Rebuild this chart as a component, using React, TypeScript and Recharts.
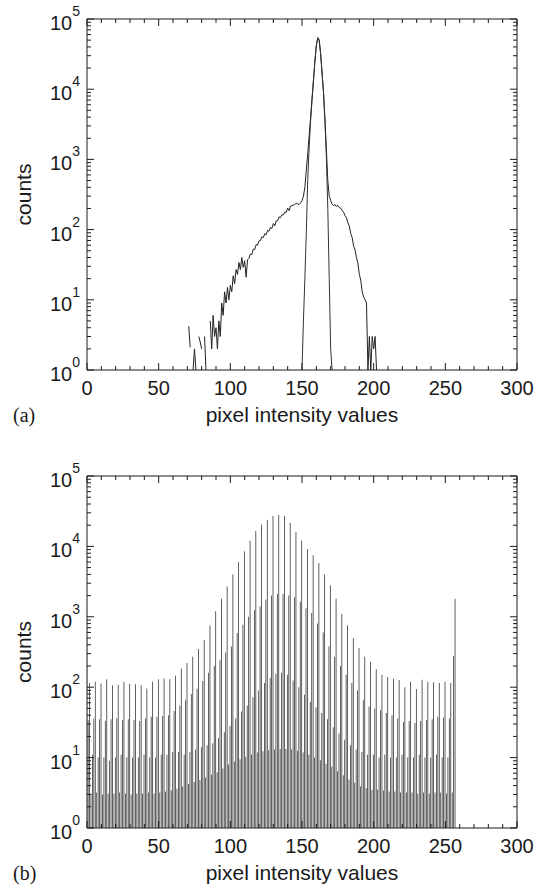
import React from "react"
import {
  Bar,
  ComposedChart,
  Line,
  ReferenceArea,
  XAxis,
  YAxis,
} from "recharts"

// (a) broad background histogram, x = 71 .. 202 (null = empty bin)
const broadStart = 71
const broadCounts = [
  4.2, 2.1, null, 1, 2, 1, null, 3, 2.5, 2, // 71-80
  null, 3, 1, null, null, 5, 2, 6, 3, 4, // 81-90
  2, 5, 3, 9, 6, 13, 9, 15, 10, 16, // 91-100
  13, 22, 17, 27, 23, 34, 27, 40, 29, 36, // 101-110
  21, 37, 39, 45, 44, 53, 52, 61, 60, 69, // 111-120
  70, 79, 77, 87, 85, 97, 95, 107, 104, 122, // 121-130
  113, 133, 134, 152, 148, 163, 162, 178, 176, 202, // 131-140
  186, 216, 220, 224, 226, 238, 232, 228, 240, 260, // 141-150
  300, 400, 700, 1200, 2200, 4000, 7500, 13500, 25000, 42000, // 151-160
  54000, 50000, 32000, 17000, 9000, 3800, 1400, 500, 300, 260, // 161-170
  230, 220, 228, 212, 222, 206, 202, 188, 177, 158, // 171-180
  148, 126, 112, 88, 77, 58, 52, 40, 33, 23, // 181-190
  19, 13, 11, 10, 9, 1, 3, 1, 3, 2, // 191-200
  3, 1, // 201-202
]

// (a) narrow peak, x = 150 .. 171
const peakStart = 150
const peakCounts = [
  1, 5, 20, 90, 500, 1500, 3500, 7000, 13000, 25000, 42000,
  54000, 50000, 32000, 17000, 9000, 3500, 1100, 200, 20, 2, 1,
]

// (b) comb histogram: four interleaved levels per group of 4 bins
const combLow = [
  10, 11, 10, 10, 9, 10, 11, 10, 10, 10,
  11, 10, 10, 11, 11, 12, 12, 11, 12, 13,
  14, 15, 16, 19, 23, 28, 36, 45, 55, 72,
  90, 115, 135, 155, 160, 150, 125, 100, 78, 62,
  52, 43, 35, 27, 22, 18, 15, 13, 12, 11,
  11, 10, 11, 10, 10, 11, 10, 10, 11, 10,
  10, 11, 10, 10,
]
const combMid = [
  34, 36, 35, 33, 35, 36, 34, 35, 34, 33,
  36, 38, 38, 39, 40, 46, 55, 65, 80, 95,
  122, 160, 200, 245, 310, 380, 590, 770, 1000, 1250,
  1400, 1740, 2000, 2100, 2100, 2000, 1900, 1630, 1320, 1130,
  800, 600, 380, 270, 200, 150, 115, 90, 65, 53,
  50, 47, 43, 40, 36, 32, 33, 31, 33, 34,
  35, 38, 37, 36,
]
const combTop = [
  115, 120, 113, 130, 107, 108, 120, 112, 110, 107,
  96, 120, 130, 133, 130, 145, 185, 220, 270, 350,
  470, 750, 1200, 1800, 2700, 4000, 6000, 8500, 12000, 16500,
  20500, 24000, 27000, 28000, 27000, 21500, 16000, 12000, 9200, 7500,
  5800, 4000, 2800, 1800, 1100, 760, 500, 360, 270, 230,
  180, 150, 140, 132, 127, 100, 120, 94, 128, 120,
  118, 115, 120, 115,
]
const combBase = [
  3.1, 3.2, 3.0, 3.1, 3.1, 3.2, 3.1, 3.0, 3.1, 3.1,
  3.2, 3.1, 3.2, 3.3, 3.4, 3.6, 3.9, 4.2, 4.5, 4.8,
  5.2, 5.7, 6.2, 7.0, 8.0, 8.8, 9.5, 10.3, 11.0, 11.8,
  12.3, 12.7, 13.0, 13.2, 13.3, 13.0, 12.5, 11.8, 11.0, 10.0,
  9.2, 8.2, 7.4, 6.4, 5.6, 4.9, 4.4, 3.9, 3.7, 3.5,
  3.5, 3.4, 3.3, 3.3, 3.2, 3.2, 3.2, 3.1, 3.2, 3.1,
  3.2, 3.2, 3.1, 3.2,
]
const combEdges = [
  { x: 0, count: 500 },
  { x: 256, count: 280 },
  { x: 257, count: 1800 },
]

const xTicks = Array.from({ length: 31 }, (_, i) => i * 10)
const decades = [1, 10, 100, 1000, 10000, 100000]
const yTicks = decades.flatMap((d, i) =>
  i === decades.length - 1 ? [d] : [1, 2, 3, 4, 5, 6, 7, 8, 9].map((m) => m * d)
)

const broadData = broadCounts.map((c, i) => ({ x: broadStart + i, count: c }))
const peakData = peakCounts.map((c, i) => ({ x: peakStart + i, count: c }))
const combData = combTop.flatMap((_, g) => [
  { x: 4 * g, count: combLow[g] },
  { x: 4 * g + 1, count: combMid[g] },
  { x: 4 * g + 2, count: combTop[g] },
  { x: 4 * g + 3, count: combBase[g] },
])
combEdges.forEach((e) => {
  const row = combData.find((r) => r.x === e.x)
  if (row) row.count = e.count
  else combData.push({ ...e })
})

const FONT = "'Liberation Sans', Arial, Helvetica, sans-serif"
const SERIF = "'Liberation Serif', 'Times New Roman', serif"
const INK = "#1a1a1a"
const WIDTH = 541
const PLOT_W = 430

const makeXTick = (plotH: number) => (props: any) => {
  const { x, y, payload } = props
  const v = payload.value
  const major = v % 50 === 0
  const len = major ? 7 : 4
  return (
    <g>
      <line x1={x} x2={x} y1={y} y2={y - len} stroke={INK} />
      <line x1={x} x2={x} y1={y - plotH} y2={y - plotH + len} stroke={INK} />
      {major && (
        <text x={x} y={y + 25} textAnchor="middle" fontSize={20} fontFamily={FONT} fill={INK}>
          {v}
        </text>
      )}
    </g>
  )
}

const YTick = (props: any) => {
  const { x, y, payload } = props
  const exp = Math.log10(payload.value)
  const major = Math.abs(exp - Math.round(exp)) < 1e-9
  const len = major ? 7 : 4
  return (
    <g>
      <line x1={x} x2={x + len} y1={y} y2={y} stroke={INK} />
      <line x1={x + PLOT_W} x2={x + PLOT_W - len} y1={y} y2={y} stroke={INK} />
      {major && (
        <text x={x - 7} y={y + 11} textAnchor="end" fontSize={20} fontFamily={FONT} fill={INK}>
          10
          <tspan dy={-14} fontSize={14}>
            {Math.round(exp)}
          </tspan>
        </text>
      )}
    </g>
  )
}

const xTitle = (tag: string) => (p: any) => {
  const vb = p.viewBox
  return (
    <g>
      <text x={vb.x + vb.width / 2} y={vb.y + 52} textAnchor="middle" fontSize={21} fontFamily={FONT} fill={INK}>
        pixel intensity values
      </text>
      <text x={13} y={vb.y + 52} fontSize={20} fontFamily={SERIF} fill={INK}>
        {tag}
      </text>
    </g>
  )
}

const yTitle = (p: any) => {
  const vb = p.viewBox
  const cy = vb.y + vb.height / 2
  return (
    <text
      x={23}
      y={cy}
      transform={`rotate(-90 23 ${cy})`}
      textAnchor="middle"
      dominantBaseline="central"
      fontSize={21}
      fontFamily={FONT}
      fill={INK}
    >
      counts
    </text>
  )
}

const Panel: React.FC<{
  top: number
  height: number
  marginTop: number
  plotH: number
  tag: string
  data?: any[]
  children: React.ReactNode
}> = ({ top, height, marginTop, plotH, tag, data, children }) => (
  <div style={{ position: "absolute", left: 0, top, width: WIDTH, height }}>
    <ComposedChart
      width={WIDTH}
      height={height}
      data={data}
      margin={{ top: marginTop, right: WIDTH - 87 - PLOT_W, bottom: 0, left: 0 }}
    >
      <XAxis
        dataKey="x"
        type="number"
        domain={[0, 300]}
        ticks={xTicks}
        interval={0}
        allowDataOverflow
        height={height - marginTop - plotH}
        axisLine={false}
        tickLine={false}
        tickSize={0}
        tickMargin={0}
        tick={makeXTick(plotH)}
        label={{ content: xTitle(tag) }}
      />
      <YAxis
        scale="log"
        domain={[1, 100000]}
        ticks={yTicks}
        interval={0}
        allowDataOverflow
        width={87}
        axisLine={false}
        tickLine={false}
        tickSize={0}
        tickMargin={0}
        tick={YTick}
        label={{ content: yTitle }}
      />
      <ReferenceArea x1={0} x2={300} y1={1} y2={100000} fill="none" stroke={INK} strokeWidth={1} />
      {children}
    </ComposedChart>
  </div>
)

export default function App() {
  return (
    <div style={{ position: "absolute", left: 0, top: 0, width: WIDTH, height: 890, background: "#fff" }}>
      <Panel top={0} height={440} marginTop={19} plotH={351} tag="(a)">
        <Line
          data={broadData}
          dataKey="count"
          type="linear"
          stroke="#222"
          strokeWidth={1}
          dot={false}
          connectNulls={false}
          isAnimationActive={false}
        />
        <Line
          data={peakData}
          dataKey="count"
          type="linear"
          stroke="#333"
          strokeWidth={1}
          dot={false}
          isAnimationActive={false}
        />
      </Panel>
      <Panel top={440} height={450} marginTop={36} plotH={352} tag="(b)" data={combData}>
        <Bar dataKey="count" fill="#3a3a3a" barSize={0.8} isAnimationActive={false} />
      </Panel>
    </div>
  )
}
